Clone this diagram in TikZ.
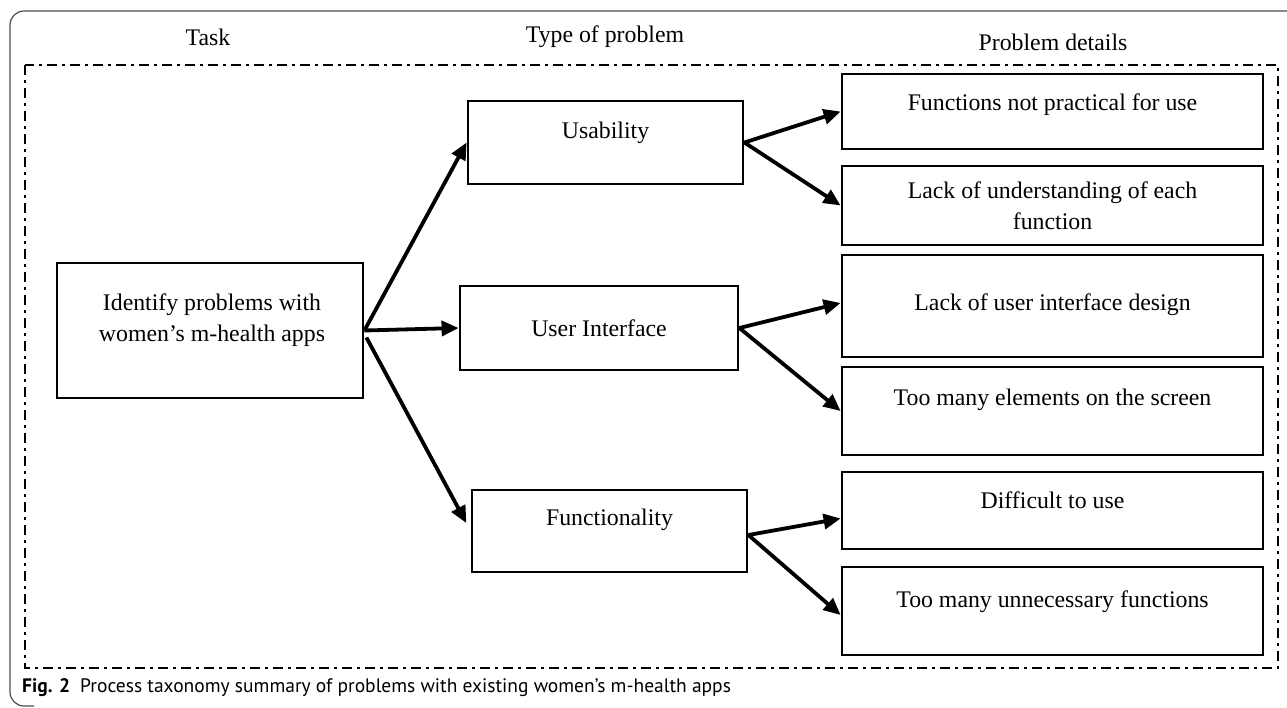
\documentclass[tikz,border=0pt]{standalone}
\usepackage{fontspec}
\setmainfont{Liberation Serif}
\newfontfamily\capfont{PT Sans}
\usetikzlibrary{arrows.meta,calc}

\tikzset{
  box/.style={draw=black, line width=2.8pt, inner sep=0pt},
  txt/.style={inner sep=0pt, align=center, font=\fontsize{23.8}{31}\selectfont},
  head/.style={inner sep=0pt, font=\fontsize{23.8}{31}\selectfont},
  link/.style={line width=3.8pt, -{Triangle[length=17pt,width=15pt]}},
  frame/.style={draw=black!70, line width=1.2pt, rounded corners=14pt},
  group/.style={draw=black, line width=2.6pt, dash pattern=on 10pt off 5pt on 3pt off 5pt},
}

\begin{document}
\begin{tikzpicture}[x=1pt,y=-1pt]
\useasboundingbox (0,0) rectangle (1287,708);

% outer panel edge
\draw[frame] (1300,11) -- (10,11) -- (10,706) -- (34,706);

% dash-dot grouping frame
\draw[group] (25,65) rectangle (1278,668);

% column headings
\node[head] (hTask) at (208,37) {Task};
\node[head] (hType) at (605,37) {Type of problem};
\node[head] (hDet)  at (1053,42) {Problem details};

% task
\node[box, minimum width=306pt, minimum height=135pt] (id) at (210,330.5) {};
\node[txt] (idt) at (212,320) {Identify problems with\\women’s m-health apps};

% problem types
\node[box, minimum width=275pt, minimum height=83pt] (us) at (605.5,142.5) {};
\node[txt] (ust) at (605.5,133) {Usability};
\node[box, minimum width=278pt, minimum height=84pt] (ui) at (599,328) {};
\node[txt] (uit) at (599,328) {User Interface};
\node[box, minimum width=275pt, minimum height=82pt] (fn) at (609.5,531) {};
\node[txt] (fnt) at (609.5,520) {Functionality};

% problem details
\node[box, minimum width=421pt, minimum height=75pt]  (r1) at (1052.5,111.5) {};
\node[txt] (r1t) at (1052.5,105) {Functions not practical for use};
\node[box, minimum width=421pt, minimum height=79pt]  (r2) at (1052.5,205.5) {};
\node[txt] (r2t) at (1052.5,206) {Lack of understanding of each\\function};
\node[box, minimum width=421pt, minimum height=102pt] (r3) at (1052.5,306) {};
\node[txt] (r3t) at (1052.5,305) {Lack of user interface design};
\node[box, minimum width=421pt, minimum height=88pt]  (r4) at (1052.5,411) {};
\node[txt] (r4t) at (1052.5,400) {Too many elements on the screen};
\node[box, minimum width=421pt, minimum height=77pt]  (r5) at (1052.5,510.5) {};
\node[txt] (r5t) at (1052.5,500) {Difficult to use};
\node[box, minimum width=421pt, minimum height=88pt]  (r6) at (1052.5,611) {};
\node[txt] (r6t) at (1052.5,602) {Too many unnecessary functions};

% connectors
\draw[link] (id.east) -- (us.west);
\draw[link] (id.east) -- (ui.west);
\draw[link, shorten >=9pt] ($(id.east)+(2,7)$) -- (fn.west);
\draw[link] (us.east) -- (r1.west);
\draw[link] (us.east) -- (r2.west);
\draw[link] (ui.east) -- ($(r3.west)+(0,-3)$);
\draw[link] (ui.east) -- (r4.west);
\draw[link] ($(fn.east)+(0,4)$) -- ($(r5.west)+(0,8)$);
\draw[link] ($(fn.east)+(0,4)$) -- ($(r6.west)+(0,4)$);

% caption
\node[anchor=west, inner sep=0pt, font=\capfont\fontsize{19.5}{23}\selectfont] (cap) at (22,688)
  {\textbf{Fig. 2}\hspace{10pt}Process taxonomy summary of problems with existing women’s m-health apps};
\end{tikzpicture}
\end{document}
